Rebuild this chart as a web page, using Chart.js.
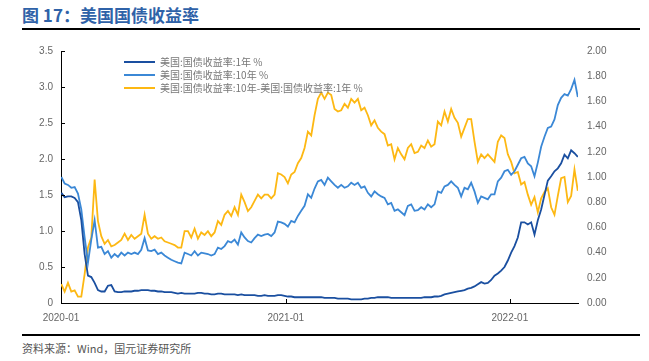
<!DOCTYPE html>
<html><head><meta charset="utf-8">
<script src="https://cdn.jsdelivr.net/npm/chart.js@4.4.1/dist/chart.umd.min.js"></script>
<style>
html,body{margin:0;padding:0;background:#fff;width:649px;height:361px;overflow:hidden;font-family:"Liberation Sans",Arial,sans-serif;}
#title{position:absolute;left:22px;top:5px;font:bold 17px "Noto Sans CJK SC",sans-serif;color:#2F62A8;line-height:20px;white-space:nowrap;}
#tline{position:absolute;left:22px;top:28px;width:618px;height:2px;background:#000;}
#wrap{position:absolute;left:0;top:36px;width:649px;height:290px;}
#bline{position:absolute;left:22px;top:334px;width:618px;height:2px;background:#000;}
#foot{position:absolute;left:22px;top:341px;font:11px "Noto Sans CJK SC",sans-serif;color:#555;line-height:14px;white-space:nowrap;}
#legend{position:absolute;left:124px;top:55px;font:10px "Noto Sans CJK SC",sans-serif;color:#777;}
.item{height:13px;line-height:13px;display:flex;align-items:center;white-space:nowrap;}
.sw{width:31px;height:2px;margin-right:5px;}
</style></head>
<body>
<div id="title">图 17：美国国债收益率</div>
<div id="tline"></div>
<div id="wrap"><canvas id="c" width="649" height="290"></canvas></div>
<div id="legend"></div>
<div id="bline"></div>
<div id="foot">资料来源：Wind，国元证券研究所</div>
<script>
// Series names
const seriesNames = ['美国:国债收益率:1年 %', '美国:国债收益率:10年 %', '美国:国债收益率:10年-美国:国债收益率:1年 %'];
const seriesColors = ['#1A4FA0', '#3B88D6', '#FDB813'];

// x axis ticks (days since 2020-01-01)
const xTickDays = [0, 366, 731];
const xTickLabels = ['2020-01', '2021-01', '2022-01'];

// Sampling dates: days since 2020-01-01 (about every 5.4 days)
const firstDay = 0.5, dayStep = 5.427;

// 1-year yield (left axis, %)
const y1 = [
1.53,1.47,1.48,1.48,1.46,1.40,1.15,0.68,0.38,0.36,
0.28,0.18,0.16,0.16,0.24,0.25,0.16,0.15,0.15,0.16,
0.16,0.16,0.17,0.17,0.18,0.18,0.18,0.17,0.17,0.16,
0.16,0.15,0.15,0.15,0.14,0.13,0.14,0.13,
0.13,0.13,0.13,0.14,0.14,0.13,0.13,0.12,0.12,0.13,
0.13,0.12,0.12,0.12,0.12,0.11,0.12,0.11,0.11,0.11,
0.11,0.10,0.10,0.11,0.10,0.10,0.10,0.11,0.11,0.10,
0.09,0.09,0.08,0.08,0.08,0.08,0.08,0.08,0.08,
0.08,0.08,0.07,0.07,0.07,0.07,0.06,0.06,0.06,0.06,
0.05,0.05,0.05,0.05,0.06,0.06,0.07,0.07,0.08,0.08,
0.08,0.08,0.07,0.07,0.07,0.07,0.07,0.07,0.07,0.07,
0.07,0.07,0.08,0.08,0.08,0.09,0.09,0.10,0.12,
0.13,0.14,0.15,0.16,0.17,0.18,0.20,0.21,0.23,0.26,
0.29,0.27,0.28,0.32,0.38,0.41,0.45,0.50,0.59,0.70,
0.79,0.91,1.12,1.12,1.09,1.12,0.95,1.15,1.30,1.50,
1.70,1.76,1.83,1.87,1.94,2.06,2.01,2.12,2.08,2.03
];

// 10-year yield (left axis, %)
const y10 = [
1.75,1.66,1.64,1.60,1.61,1.52,1.30,0.91,0.56,0.88,
1.15,0.77,0.78,0.68,0.72,0.63,0.68,0.64,0.70,0.66,
0.70,0.68,0.70,0.68,0.74,0.90,0.73,0.72,0.74,0.68,
0.70,0.66,0.63,0.60,0.58,0.56,0.55,0.70,
0.68,0.66,0.72,0.66,0.70,0.69,0.68,0.66,0.68,0.77,
0.75,0.79,0.86,0.84,0.88,0.81,0.98,0.91,0.86,0.84,
0.90,0.95,0.93,0.95,0.96,0.93,0.98,1.13,1.12,1.10,
1.06,1.14,1.12,1.21,1.28,1.35,1.51,1.46,1.59,
1.69,1.71,1.64,1.74,1.69,1.64,1.60,1.64,1.60,1.62,
1.67,1.64,1.67,1.60,1.62,1.53,1.48,1.55,1.51,1.48,
1.46,1.37,1.39,1.28,1.30,1.26,1.22,1.35,1.37,1.28,
1.29,1.33,1.30,1.37,1.33,1.37,1.55,1.53,1.62,
1.64,1.69,1.64,1.60,1.48,1.60,1.58,1.67,1.55,1.39,
1.48,1.46,1.44,1.51,1.51,1.69,1.74,1.83,1.85,1.78,
1.83,1.92,2.01,2.03,1.94,1.90,1.76,1.95,2.17,2.31,
2.43,2.45,2.55,2.75,2.85,2.90,2.88,2.97,3.10,2.86
];

// 10y - 1y spread (right axis)
const spread = [
0.15,0.09,0.16,0.09,0.10,0.05,0.05,0.23,0.44,0.52,
0.98,0.65,0.53,0.47,0.50,0.45,0.46,0.48,0.50,0.55,
0.50,0.54,0.51,0.53,0.55,0.70,0.55,0.51,0.53,0.51,
0.52,0.49,0.48,0.47,0.46,0.44,0.44,0.57,
0.57,0.52,0.59,0.51,0.56,0.54,0.57,0.53,0.56,0.65,
0.62,0.70,0.73,0.69,0.76,0.70,0.86,0.80,0.73,0.76,
0.81,0.86,0.83,0.86,0.86,0.83,0.86,1.03,1.02,1.00,
0.95,1.02,1.04,1.11,1.15,1.23,1.36,1.33,1.49,
1.62,1.67,1.62,1.67,1.65,1.54,1.52,1.53,1.58,1.55,
1.62,1.59,1.62,1.53,1.55,1.49,1.41,1.45,1.39,1.36,
1.34,1.25,1.26,1.14,1.23,1.18,1.14,1.23,1.26,1.19,
1.20,1.25,1.23,1.29,1.24,1.26,1.44,1.41,1.52,
1.44,1.54,1.47,1.43,1.32,1.39,1.46,1.46,1.28,1.12,
1.18,1.15,1.18,1.15,1.12,1.28,1.33,1.31,1.18,1.12,
1.03,1.04,0.94,0.96,0.86,0.78,0.84,0.72,0.83,0.88,
0.91,0.76,0.70,0.85,0.99,1.00,0.80,0.85,1.06,0.89
];

const days = y1.map((_, i) => firstDay + i * dayStep);
const pts = arr => arr.map((v, i) => ({x: days[i], y: v}));

const tickFont = {family: '"Liberation Sans", Arial, sans-serif', size: 10};
const tickColor = '#666';

const innerTicks = {
  id: 'innerTicks',
  afterDraw(chart) {
    const ctx = chart.ctx, xs = chart.scales.x, ys = chart.scales.y;
    ctx.save();
    ctx.strokeStyle = '#000'; ctx.lineWidth = 1;
    ctx.beginPath();
    xs.ticks.forEach(t => {
      const px = Math.round(xs.getPixelForValue(t.value)) + 0.5;
      ctx.moveTo(px, xs.top); ctx.lineTo(px, xs.top - 4);
    });
    ys.ticks.forEach(t => {
      const py = Math.round(ys.getPixelForValue(t.value)) + 0.5;
      ctx.moveTo(ys.right, py); ctx.lineTo(ys.right + 4, py);
    });
    ctx.stroke();
    ctx.restore();
  }
};

const chart = new Chart(document.getElementById('c'), {
  type: 'line',
  data: {
    datasets: [
      {label: seriesNames[0], data: pts(y1), yAxisID: 'y', borderColor: seriesColors[0], borderWidth: 1.8, pointRadius: 0, tension: 0},
      {label: seriesNames[1], data: pts(y10), yAxisID: 'y', borderColor: seriesColors[1], borderWidth: 1.8, pointRadius: 0, tension: 0},
      {label: seriesNames[2], data: pts(spread), yAxisID: 'y2', borderColor: seriesColors[2], borderWidth: 1.8, pointRadius: 0, tension: 0}
    ]
  },
  options: {
    responsive: false, animation: false, devicePixelRatio: 1,
    layout: {padding: {top: 14, left: 0, right: 0, bottom: 0}},
    plugins: {legend: {display: false}, tooltip: {enabled: false}},
    scales: {
      x: {
        type: 'linear', min: 0, max: 842,
        afterBuildTicks: s => { s.ticks = xTickDays.map(v => ({value: v})); },
        ticks: {callback: (v, i) => xTickLabels[i], color: tickColor, font: tickFont, padding: 9, maxRotation: 0, autoSkip: false},
        grid: {display: false, drawTicks: false},
        border: {display: true, color: '#000', width: 1},
        afterFit: s => { s.height = 23; }
      },
      y: {
        position: 'left', min: 0, max: 3.5,
        ticks: {stepSize: 0.5, color: tickColor, font: tickFont, padding: 8},
        grid: {display: false, drawTicks: false},
        border: {display: true, color: '#000', width: 1},
        afterFit: s => { s.width = 61; }
      },
      y2: {
        position: 'right', min: 0, max: 2,
        ticks: {stepSize: 0.2, color: tickColor, font: tickFont, padding: 9, callback: v => Number(v).toFixed(2)},
        grid: {display: false, drawTicks: false},
        border: {display: false},
        afterFit: s => { s.width = 71; }
      }
    }
  },
  plugins: [innerTicks]
});

// HTML legend built from the chart's datasets
const lg = document.getElementById('legend');
chart.data.datasets.forEach(ds => {
  const it = document.createElement('div'); it.className = 'item';
  const sw = document.createElement('span'); sw.className = 'sw'; sw.style.background = ds.borderColor;
  const tx = document.createElement('span'); tx.textContent = ds.label;
  it.appendChild(sw); it.appendChild(tx); lg.appendChild(it);
});
</script>
</body></html>
